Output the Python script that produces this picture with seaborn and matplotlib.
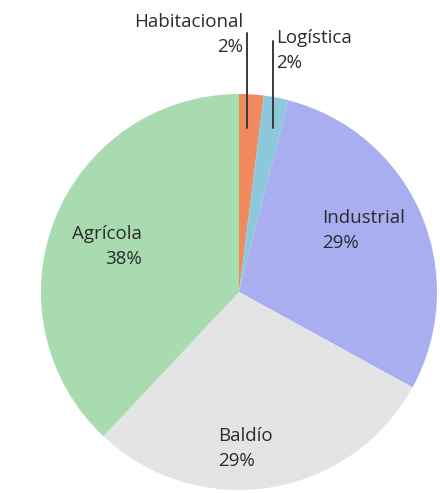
import numpy as np
import seaborn as sns
import matplotlib.pyplot as plt

# --- data ---
categories = ["Habitacional", "Logística", "Industrial", "Baldío", "Agrícola"]
shares = [2, 2, 29, 29, 38]
pct_labels = ["2%", "2%", "29%", "29%", "38%"]
slice_colors = ["#F08A5D", "#8CC8DA", "#A9AEF0", "#E4E4E4", "#A8DCB0"]

sns.set_style("white")
plt.rcParams["font.family"] = ["Open Sans", "DejaVu Sans"]

fig = plt.figure(figsize=(4.4, 4.93), dpi=100)
# pie centre at about (239, 292) px, radius 198 px
cx, cy, r = 239, 292, 198
ax = fig.add_axes([(cx - r) / 440, (493 - cy - r) / 493, 2 * r / 440, 2 * r / 493])

ax.pie(shares, colors=slice_colors, startangle=90, counterclock=False,
       radius=1, wedgeprops=dict(linewidth=0))
ax.set_xlim(-1, 1)
ax.set_ylim(-1, 1)
ax.set_aspect("equal")
ax.axis("off")

txt = dict(fontsize=13.5, color="#2b2b2b", va="center", linespacing=1.55)

# label placement (axes data units), per category
label_pos = {
    "Habitacional": (0.02, 1.30, "right"),
    "Logística": (0.19, 1.22, "left"),
    "Industrial": (0.42, 0.31, "left"),
    "Baldío": (-0.105, -0.79, "left"),
    "Agrícola": (-0.49, 0.23, "right"),
}
for cat, pct in zip(categories, pct_labels):
    x, y, ha = label_pos[cat]
    ax.text(x, y, f"{cat}\n{pct}", ha=ha, multialignment=ha,
            clip_on=False, **txt)

# leader lines for the two small slices
ax.plot([0.038, 0.038], [1.31, 0.83], color="#3a3a3a", lw=1.4, clip_on=False)
ax.plot([0.172, 0.172], [1.27, 0.83], color="#3a3a3a", lw=1.4, clip_on=False)

fig.savefig("out.png", dpi=100)
